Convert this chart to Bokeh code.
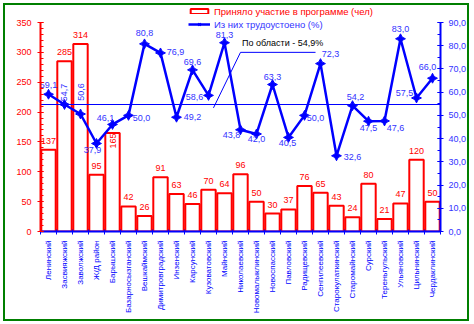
import math
from bokeh.plotting import figure
from bokeh.models import (Range1d, LinearAxis, FixedTicker, ColumnDataSource, Legend,
                          LegendItem, Label)
from bokeh.core.properties import value
from bokeh.embed import file_html
from bokeh.resources import INLINE

# ---------------- data ----------------
districts = ["Ленинский", "Засвияжский", "Заволжский", "Ж/Д район", "Барышский",
             "Базарносызганский", "Вешкаймский", "Димитровградский", "Инзенский",
             "Карсунский", "Кузоватовский", "Майнский", "Николаевский",
             "Новомалыклинский", "Новоспасский", "Павловский", "Радищевский",
             "Сенгилеевский", "Старокулаткинский", "Старомайнский", "Сурский",
             "Тереньгульский", "Ульяновский", "Цильнинский", "Чердаклинский"]
participants = [137, 285, 314, 95, 165, 42, 26, 91, 63, 46, 70, 64, 96, 50, 30, 37,
                76, 65, 43, 24, 80, 21, 47, 120, 50]
employed_pct = [59.1, 54.7, 50.6, 37.9, 46.1, 50.0, 80.8, 76.9, 49.2, 69.6, 58.6, 81.3,
                43.8, 42.0, 63.3, 40.5, 50.0, 72.3, 32.6, 54.2, 47.5, 47.6, 83.0, 57.5, 66.0]
region_avg = 54.9
region_text = "По области - 54,9%"
bar_series_name = "Приняло участие в программе (чел)"
line_series_name = "Из них трудоустоено (%)"
left_ticks = [0, 50, 100, 150, 200, 250, 300, 350]
left_minor = list(range(0, 351, 10))
right_ticks = [0, 10, 20, 30, 40, 50, 60, 70, 80, 90]
right_minor = list(range(0, 91, 5))

# label placement (screen px offsets; style only)
line_label_offsets = [(0, -9), (-1, -12), (0, -22), (-4, 7), (-7, -6), (13, 3), (0, -11),
                      (15, -1), (16, 0), (0, -8), (-14, 2), (0, -8), (-9, 5), (0, 5),
                      (0, -8), (-1, 6), (11, 3), (10, -10), (16, 1), (3, -9), (0, 7),
                      (11, 7), (0, -10), (-12, -5), (-5, -11)]
vertical_line_labels = {1, 2}
vertical_bar_labels = {4}

FONT = "Liberation Sans"
RED = "#FF0000"
BLUE = "#0000FF"
TXT_BLUE = "#3333FF"

n = len(districts)
xc = [i + 0.5 for i in range(n)]

# frame spans from the top of the chart border down to the value axis;
# the axes themselves are bounded to 0..350 and 0..90
LEFT_MAX, RIGHT_MAX = 350, 90
HEADROOM = 227 / 209

p = figure(width=472, height=324, output_backend="svg", toolbar_location=None,
           x_range=Range1d(0, n), y_range=Range1d(0, LEFT_MAX * HEADROOM),
           min_border_left=40, min_border_right=32, min_border_top=4,
           min_border_bottom=93)
p.xgrid.visible = False
p.ygrid.visible = False
p.outline_line_color = None
p.background_fill_color = None
p.border_fill_color = None
p.styles = {"background-color": "white", "outline": "2px solid #007F00",
            "outline-offset": "-5px"}

# ---- left axis ----
ly = p.yaxis[0]
ly.bounds = (0, LEFT_MAX)
ly.ticker = FixedTicker(ticks=left_ticks, minor_ticks=left_minor)
ly.axis_line_color = RED
ly.axis_line_width = 2
ly.major_tick_line_color = RED
ly.minor_tick_line_color = RED
ly.major_tick_in = 3
ly.major_tick_out = 3
ly.minor_tick_in = 3
ly.minor_tick_out = 0
ly.major_label_text_color = RED
ly.major_label_text_font = FONT
ly.major_label_text_font_size = "9px"
ly.major_label_standoff = 6

# ---- right axis ----
p.extra_y_ranges = {"right": Range1d(0, RIGHT_MAX * HEADROOM)}
ry = LinearAxis(y_range_name="right", bounds=(0, RIGHT_MAX))
ry.ticker = FixedTicker(ticks=right_ticks, minor_ticks=right_minor)
ry.major_label_overrides = {t: f"{t:.1f}".replace(".", ",") for t in right_ticks}
ry.axis_line_color = BLUE
ry.axis_line_width = 2
ry.major_tick_line_color = BLUE
ry.minor_tick_line_color = BLUE
ry.major_tick_in = 3
ry.major_tick_out = 3
ry.minor_tick_in = 3
ry.minor_tick_out = 0
ry.major_label_text_color = TXT_BLUE
ry.major_label_text_font = FONT
ry.major_label_text_font_size = "9px"
ry.major_label_standoff = 5
p.add_layout(ry, "right")

# ---- bottom axis ----
bx = p.xaxis[0]
bx.ticker = FixedTicker(ticks=xc, minor_ticks=list(range(n + 1)))
bx.major_label_overrides = {x: d for x, d in zip(xc, districts)}
bx.major_label_orientation = math.pi / 2
bx.axis_line_color = BLUE
bx.axis_line_width = 2
bx.major_tick_line_color = None
bx.minor_tick_line_color = BLUE
bx.minor_tick_in = 2
bx.minor_tick_out = 3
bx.major_label_text_color = BLUE
bx.major_label_text_font = FONT
bx.major_label_text_font_size = "8px"
bx.major_label_standoff = 3

# ---- bars ----
bar_src = ColumnDataSource(dict(x=xc, top=participants))
bars = p.vbar(x="x", top="top", width=0.9, source=bar_src, fill_color="white",
              line_color=RED, line_width=2)

hb = [i for i in range(n) if i not in vertical_bar_labels]
vb = [i for i in range(n) if i in vertical_bar_labels]
p.text(x=[xc[i] for i in hb], y=[participants[i] for i in hb],
       text=[str(participants[i]) for i in hb], y_offset=-9,
       text_align="center", text_baseline="middle", text_color=RED,
       text_font=value(FONT), text_font_size="9px")
p.text(x=[xc[i] for i in vb], y=[participants[i] for i in vb],
       text=[str(participants[i]) for i in vb], y_offset=8, angle=math.pi / 2,
       text_align="center", text_baseline="middle", text_color=RED,
       text_font=value(FONT), text_font_size="9px")

# ---- region average line ----
p.hspan(y=[region_avg], line_color=BLUE, line_width=1, y_range_name="right")

# ---- employment line ----
ln = p.line(xc, employed_pct, line_color=BLUE, line_width=2.5, y_range_name="right")
mk = p.scatter(xc, employed_pct, marker="square_pin", angle=math.pi / 4, size=7,
               fill_color=BLUE, line_color=BLUE, y_range_name="right")

fmt = [f"{v:.1f}".replace(".", ",") for v in employed_pct]
hl = [i for i in range(n) if i not in vertical_line_labels]
vl = [i for i in range(n) if i in vertical_line_labels]
p.text(x=[xc[i] for i in hl], y=[employed_pct[i] for i in hl], text=[fmt[i] for i in hl],
       x_offset=[line_label_offsets[i][0] for i in hl],
       y_offset=[line_label_offsets[i][1] for i in hl],
       text_align="center", text_baseline="middle", text_color=TXT_BLUE,
       text_font=value(FONT), text_font_size="9px", y_range_name="right")
p.text(x=[xc[i] for i in vl], y=[employed_pct[i] for i in vl], text=[fmt[i] for i in vl],
       x_offset=[line_label_offsets[i][0] for i in vl],
       y_offset=[line_label_offsets[i][1] for i in vl], angle=math.pi / 2,
       text_align="center", text_baseline="middle", text_color=TXT_BLUE,
       text_font=value(FONT), text_font_size="9px", y_range_name="right")

# ---- callout for region average ----
p.line([10.81, 12.5, 17.19], [207, 300, 300], line_color=BLUE, line_width=1)
p.add_layout(Label(x=12.6, y=315, text=region_text, text_font=FONT,
                   text_font_size="9px", text_color="#000000",
                   text_baseline="middle", text_align="left"))

# ---- legends ----
common = dict(orientation="vertical", label_text_font=FONT, label_text_font_size="9.5px",
              glyph_width=22, glyph_height=6, label_height=12, label_standoff=4,
              padding=0, margin=0, spacing=0, border_line_color=None,
              background_fill_alpha=0)
leg1 = Legend(items=[LegendItem(label=bar_series_name, renderers=[bars])],
              location=(148, 214), label_text_color=RED, **common)
leg2 = Legend(items=[LegendItem(label=line_series_name, renderers=[ln, mk])],
              location=(148, 201), label_text_color=TXT_BLUE, **common)
p.add_layout(leg1)
p.add_layout(leg2)

open("out.html", "w").write(file_html(p, INLINE))
